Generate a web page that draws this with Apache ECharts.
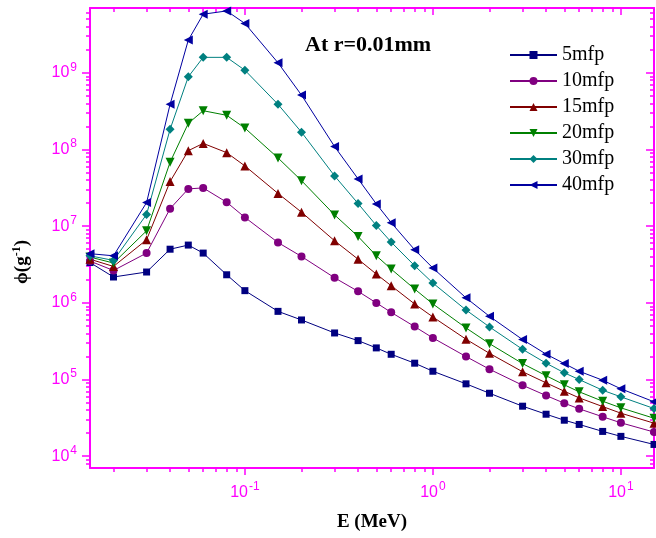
<!DOCTYPE html>
<html><head><meta charset="utf-8">
<script src="https://cdn.jsdelivr.net/npm/echarts@6/dist/echarts.min.js"></script>
<style>html,body{margin:0;padding:0;background:#fff}#c{width:656px;height:538px}</style>
</head><body><div id="c"></div>
<script>
// ---------- data ----------
const energy = [0.015,0.02,0.03,0.04,0.05,0.06,0.08,0.1,0.15,0.2,0.3,0.4,0.5,0.6,0.8,1,1.5,2,3,4,5,6,8,10,15];
const mfp5  = [3.35e6,2.17e6,2.52e6,5.0e6,5.66e6,4.45e6,2.32e6,1.44e6,7.73e5,5.97e5,4.04e5,3.21e5,2.58e5,2.13e5,1.63e5,1.28e5,8.77e4,6.61e4,4.48e4,3.52e4,2.94e4,2.59e4,2.10e4,1.81e4,1.42e4];
const mfp10 = [3.5e6,2.64e6,4.45e6,1.69e7,3.06e7,3.15e7,2.05e7,1.30e7,6.11e6,4.02e6,2.12e6,1.41e6,9.97e5,7.50e5,4.89e5,3.48e5,1.99e5,1.36e5,8.40e4,6.17e4,4.90e4,4.14e4,3.26e4,2.72e4,2.06e4];
const mfp15 = [3.7e6,2.98e6,6.64e6,3.81e7,9.64e7,1.20e8,9.09e7,6.10e7,2.67e7,1.52e7,6.44e6,3.70e6,2.37e6,1.67e6,9.64e5,6.53e5,3.35e5,2.19e5,1.26e5,9.03e4,7.02e4,5.75e4,4.43e4,3.63e4,2.69e4];
const mfp20 = [3.95e6,3.30e6,8.69e6,6.81e7,2.19e8,3.20e8,2.79e8,1.90e8,7.75e7,3.92e7,1.40e7,7.33e6,4.11e6,2.75e6,1.51e6,9.65e5,4.70e5,2.93e5,1.61e5,1.12e5,8.51e4,6.90e4,5.20e4,4.26e4,3.12e4];
const mfp30 = [4.1e6,3.57e6,1.42e7,1.83e8,8.87e8,1.59e9,1.59e9,1.08e9,3.88e8,1.68e8,4.52e7,1.97e7,1.02e7,6.19e6,3.04e6,1.81e6,8.05e5,4.84e5,2.47e5,1.63e5,1.22e5,9.97e4,7.23e4,5.93e4,4.18e4];
const mfp40 = [4.37e6,4.10e6,2.03e7,3.88e8,2.67e9,5.81e9,6.41e9,4.40e9,1.35e9,5.12e8,1.09e8,4.13e7,1.95e7,1.11e7,4.91e6,2.84e6,1.16e6,6.66e5,3.31e5,2.14e5,1.61e5,1.28e5,9.77e4,7.55e4,5.11e4];
const seriesNames = ['5mfp','10mfp','15mfp','20mfp','30mfp','40mfp'];
const seriesValues = [mfp5, mfp10, mfp15, mfp20, mfp30, mfp40];
const xMajorTicks = [0.1, 1, 10];
const yMajorTicks = [1e4, 1e5, 1e6, 1e7, 1e8, 1e9];
const xTitle = 'E (MeV)';
const annotation = 'At r=0.01mm';

// ---------- styles ----------
const MAG = '#FF00FF';
const colors  = ['#000080','#800080','#800000','#008000','#008080','#0000A0'];
const symbols = ['rect','circle','triangle','triangle','diamond','triangle'];
const rotates = [0, 0, 0, 180, 0, 90];
const sizes   = [7, 8, 9, 9, 9, 9];

function minorTicks(lo, hi) {
  const out = [];
  for (let e = Math.floor(Math.log10(lo)); e <= Math.ceil(Math.log10(hi)); e++) {
    for (let m = 2; m <= 9; m++) {
      const v = m * Math.pow(10, e);
      if (v > lo && v < hi) out.push(v);
    }
  }
  return out;
}
const X_MIN = 0.015, X_MAX = 15, Y_MIN = 7e3, Y_MAX = 7e9;
const xMinor = minorTicks(X_MIN, X_MAX);
const yMinor = minorTicks(Y_MIN, Y_MAX);

const supRich = {
  b: {fontFamily: 'Liberation Sans', fontSize: 16, color: MAG},
  s: {fontFamily: 'Liberation Sans', fontSize: 12, color: MAG, padding: [0, 0, 11, 1]}
};
function powFmt(v) {
  return '{b|10}{s|' + Math.round(Math.log10(v)) + '}';
}

function xAx(pos, ticks, len, inside, line, label) {
  return {
    type: 'log', logBase: 10, min: X_MIN, max: X_MAX, position: pos, gridIndex: 0,
    axisLine: {show: line, onZero: false, lineStyle: {color: MAG, width: 2}},
    axisTick: {show: true, customValues: ticks, length: len, inside: inside, lineStyle: {color: MAG, width: 1.5}},
    axisLabel: label ? {show: true, customValues: xMajorTicks, formatter: powFmt, rich: supRich, margin: 13} : {show: false},
    splitLine: {show: false}, minorTick: {show: false}, minorSplitLine: {show: false}
  };
}
function yAx(pos, ticks, len, inside, line, label) {
  return {
    type: 'log', logBase: 10, min: Y_MIN, max: Y_MAX, position: pos, gridIndex: 0,
    axisLine: {show: line, onZero: false, lineStyle: {color: MAG, width: 2}},
    axisTick: {show: true, customValues: ticks, length: len, inside: inside, lineStyle: {color: MAG, width: 1.5}},
    axisLabel: label ? {show: true, customValues: yMajorTicks, formatter: powFmt, rich: supRich, margin: 13} : {show: false},
    splitLine: {show: false}, minorTick: {show: false}, minorSplitLine: {show: false}
  };
}

const series = seriesNames.map((name, k) => ({
  name: name, type: 'line', xAxisIndex: 0, yAxisIndex: 0,
  data: energy.map((e, i) => [e, seriesValues[k][i]]),
  symbol: symbols[k], symbolSize: sizes[k], symbolRotate: rotates[k],
  showAllSymbol: true, clip: false,
  lineStyle: {color: colors[k], width: 1},
  itemStyle: {color: colors[k]},
  emphasis: {disabled: true}
}));

const chart = echarts.init(document.getElementById('c'), null, {renderer: 'canvas'});
chart.setOption({
  animation: false,
  backgroundColor: '#fff',
  grid: {left: 90, right: 2, top: 8, bottom: 70, containLabel: false},
  xAxis: [
    Object.assign(xAx('bottom', xMajorTicks, 7, false, true, true), {
      name: xTitle, nameLocation: 'middle', nameGap: 45,
      nameTextStyle: {fontFamily: 'Liberation Serif', fontWeight: 'bold', fontSize: 19, color: '#000'}
    }),
    xAx('bottom', xMinor, 4, false, false, false),
    xAx('top', xMajorTicks, 7, true, true, false),
    xAx('top', xMinor, 4, true, false, false)
  ],
  yAxis: [
    yAx('left', yMajorTicks, 8, false, true, true),
    yAx('left', yMinor, 4, false, false, false),
    yAx('right', yMajorTicks, 8, true, true, false),
    yAx('right', yMinor, 4, true, false, false)
  ],
  legend: {
    orient: 'vertical', left: 504, top: 40, itemWidth: 47, itemHeight: 10, itemGap: 6,
    textStyle: {fontFamily: 'Liberation Serif', fontSize: 20, color: '#000'},
    data: seriesNames, selectedMode: false
  },
  graphic: [
    {type: 'text', x: 305, y: 45, silent: true,
     style: {text: annotation, fontFamily: 'Liberation Serif', fontWeight: 'bold', fontSize: 22, fill: '#000', verticalAlign: 'middle', align: 'left'}},
    {type: 'text', x: 22, y: 262, rotation: Math.PI / 2, silent: true,
     style: {text: '{a|\u03D5(g}{s|-1}{a|)}', align: 'center', verticalAlign: 'middle',
       rich: {a: {fontFamily: 'Liberation Serif', fontWeight: 'bold', fontSize: 19, fill: '#000', color: '#000'},
              s: {fontFamily: 'Liberation Serif', fontWeight: 'bold', fontSize: 12, fill: '#000', color: '#000', padding: [0, 0, 10, 0]}}}}
  ],
  series: series
});
</script></body></html>
